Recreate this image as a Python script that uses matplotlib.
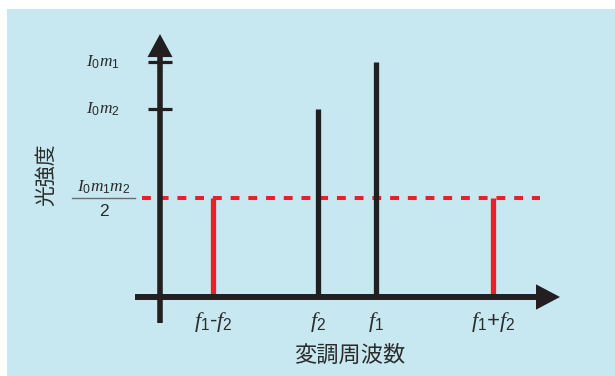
import matplotlib
matplotlib.use("Agg")
import matplotlib.pyplot as plt
from matplotlib.patches import Rectangle, Polygon

plt.rcParams['font.family'] = ['Noto Sans CJK JP', 'DejaVu Sans']
plt.rcParams['mathtext.fontset'] = 'custom'
plt.rcParams['mathtext.it'] = 'Liberation Serif:italic'
plt.rcParams['mathtext.rm'] = 'Liberation Sans'
plt.rcParams['mathtext.default'] = 'it'

# Spectrum lines (schematic modulation frequency axis, relative intensity)
freq_labels = [r'$f_{\mathrm{1}}$-$f_{\mathrm{2}}$', r'$f_{\mathrm{2}}$',
               r'$f_{\mathrm{1}}$', r'$f_{\mathrm{1}}$+$f_{\mathrm{2}}$']
freq_pos = [0.53, 1.58, 2.16, 3.33]
intensity = [0.42, 0.80, 1.00, 0.42]
line_kind = ['mix', 'base', 'base', 'mix']

# Intensity levels marked on the vertical axis
level_names = [r'$I_{\mathrm{0}}m_{\mathrm{1}}$', r'$I_{\mathrm{0}}m_{\mathrm{2}}$']
level_values = [1.00, 0.80]
half_level = 0.42
half_numerator = r'$I_{\mathrm{0}}m_{\mathrm{1}}m_{\mathrm{2}}$'
half_denominator = '2'

x_title = '変調周波数'
y_title = '光強度'

BG = '#c7e8f0'
INK = '#231f20'
RED = '#e8202a'
TXT = '#2b2b2b'

fig = plt.figure(figsize=(6.15, 3.76), dpi=100)
fig.patch.set_facecolor('white')
fig.add_artist(Rectangle((7 / 615, 0), 1 - 7 / 615, 367 / 376,
                         transform=fig.transFigure, facecolor=BG,
                         edgecolor='none', zorder=0))

ax = fig.add_axes([0, 0, 1, 1])
ax.set_facecolor('none')
ax.set_xlim(-1.60, 4.55)
ax.set_ylim(-79 / 235, 297 / 235)
ax.axis('off')

# axes with arrowheads
ax.plot([-0.25, 3.80], [0, 0], color=INK, lw=4.3, solid_capstyle='butt', zorder=3)
ax.add_patch(Polygon([[4.00, 0], [3.76, 0.054], [3.76, -0.054]], closed=True,
                     facecolor=INK, edgecolor='none', zorder=3))
ax.plot([0, 0], [-0.11, 1.05], color=INK, lw=4.0, solid_capstyle='butt', zorder=3)
ax.add_patch(Polygon([[0, 1.119], [-0.125, 1.021], [0.125, 1.021]], closed=True,
                     facecolor=INK, edgecolor='none', zorder=3))

# tick marks and labels for the intensity levels
ax.hlines(level_values, -0.12, 0.12, color=INK, lw=2.3, zorder=3)
for name, val in zip(level_names, level_values):
    ax.text(-0.40, val, name, ha='right', va='center', fontsize=12.5, color=TXT)

# half-product level: dashed reference line and fraction label
ax.plot([-0.18, 3.80], [half_level, half_level], color=RED, lw=2.9,
        linestyle=(0, (2.2, 2.2)), dash_capstyle='butt', zorder=2)
ax.plot([-0.88, -0.25], [half_level, half_level], color='#6b6b6b', lw=1.0, zorder=2)
ax.text(-0.565, half_level + 0.048, half_numerator, ha='center', va='center',
        fontsize=12.5, color=TXT)
ax.text(-0.565, half_level - 0.055, half_denominator, ha='center', va='center',
        fontsize=12.5, color=TXT, family=['Liberation Sans'])

# spectral lines
for x, h, kind in zip(freq_pos, intensity, line_kind):
    ax.vlines(x, 0, h, color=RED if kind == 'mix' else INK, lw=3.8, zorder=2,
              capstyle='butt')

for x, lab in zip(freq_pos, freq_labels):
    ax.text(x, -0.105, lab, ha='center', va='center', fontsize=16, color=TXT,
            family=['Liberation Sans'])

ax.text(1.90, -0.25, x_title, ha='center', va='center', fontsize=16, color=TXT)
ax.text(-1.14, 0.52, y_title, ha='center', va='center', fontsize=15,
        rotation=90, color=TXT)

fig.savefig('out.png', dpi=100, facecolor='white')
